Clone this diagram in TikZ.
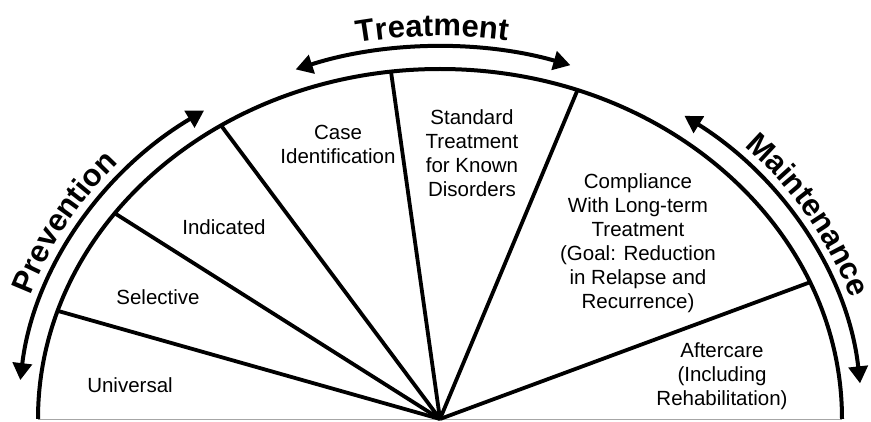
\documentclass[tikz,border=0pt]{standalone}
\usepackage{fontspec}
\setmainfont{Liberation Sans}
\usetikzlibrary{arrows.meta,decorations.text}
\begin{document}
\begin{tikzpicture}[x=1pt,y=1pt,
  lbl/.style={font=\fontsize{20.5}{24}\selectfont, align=center, inner sep=0pt},
  spoke/.style={line width=3.8pt},
  rim/.style={line width=4pt},
  dbl/.style={line width=4pt, {Triangle[length=17pt,width=19pt]}-{Triangle[length=17pt,width=19pt]}},
  arclbl/.style={decorate, decoration={text along path, text align=center, text={|\fontsize{31}{31}\selectfont\bfseries|#1}}}
]
\useasboundingbox (0,0) rectangle (871,421);
\coordinate (O) at (440,2);
\coordinate (L) at (38,1.5);
\coordinate (R) at (842,1.5);
% base line
\draw[gray!70, line width=1pt] (L) -- (R);
% rim
\draw[rim] ({440-402},2) arc[start angle=180,end angle=0,x radius=402pt,y radius=350pt];
% spokes
\foreach \t [count=\i] in {162,144,123,97,70,23}{
  \coordinate (s\i) at ({440+402*cos(\t)},{2+350*sin(\t)});
  \draw[spoke] (O) -- (s\i);
}
% outer arrows
\draw[dbl] ({440+422*cos(174)},{2+372*sin(174)}) arc[start angle=174,end angle=124,x radius=422pt,y radius=372pt];
\draw[dbl] ({440+422*cos(110)},{2+372*sin(110)}) arc[start angle=110,end angle=72,x radius=422pt,y radius=372pt];
\draw[dbl] ({440+422*cos(54.6)},{2+372*sin(54.6)}) arc[start angle=54.6,end angle=5.5,x radius=422pt,y radius=372pt];
% arc labels
\path[arclbl=Prevention] ({440+433*cos(175)},{2+383*sin(175)}) arc[start angle=175,end angle=125,x radius=433pt,y radius=383pt];
\path[arclbl=Treatment] ({440+433*cos(111)},{2+383*sin(111)}) arc[start angle=111,end angle=71,x radius=433pt,y radius=383pt];
\path[arclbl=Maintenance] ({440+433*cos(55.5)},{2+383*sin(55.5)}) arc[start angle=55.5,end angle=7.5,x radius=433pt,y radius=383pt];
% sector labels
\node[lbl, anchor=base] (uni) at (130,29) {Universal};
\node[lbl, anchor=base] (sel) at (158,117) {Selective};
\node[lbl, anchor=base] (ind) at (224,186) {Indicated};
\node[lbl] (case) at (338,276.4) {Case\\Identification};
\node[lbl] (std) at (472,267.4) {Standard\\Treatment\\for Known\\Disorders};
\node[lbl] (comp) at (638,178.3) {Compliance\\With Long-term\\Treatment\\(Goal: Reduction\\in Relapse and\\Recurrence)};
\node[lbl] (after) at (722,44.3) {Aftercare\\(Including\\Rehabilitation)};
\end{tikzpicture}
\end{document}
